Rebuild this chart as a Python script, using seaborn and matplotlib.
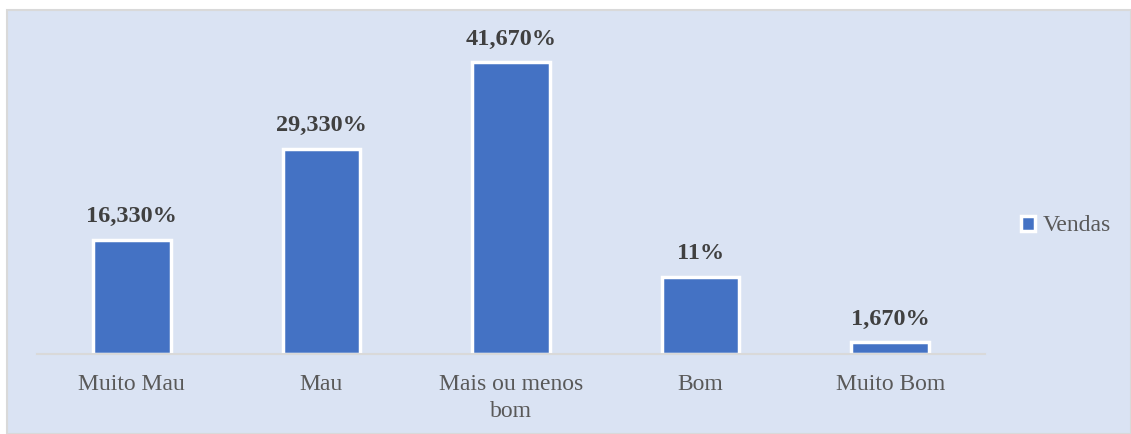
# Bar chart of "Vendas" by rating category
import pandas as pd
import seaborn as sns
import matplotlib.pyplot as plt
from matplotlib.patches import Rectangle

# Data
categories = ['Muito Mau', 'Mau', 'Mais ou menos\nbom', 'Bom', 'Muito Bom']
values = [16.33, 29.33, 41.67, 11.0, 1.67]
value_labels = ['16,330%', '29,330%', '41,670%', '11%', '1,670%']
series_name = 'Vendas'

df = pd.DataFrame({'categoria': categories, 'valor': values})

sns.set_theme(style='white')
plt.rcParams['font.family'] = ['Liberation Serif', 'DejaVu Serif']

W, H = 1131, 434
fig = plt.figure(figsize=(W / 100, H / 100), dpi=100)
fig.patch.set_facecolor('white')

# Chart area background with light border
fig.patches.append(Rectangle((7 / W, 0), (W - 7) / W, (H - 10) / H,
                             transform=fig.transFigure, facecolor='#DAE3F3',
                             edgecolor='#D9D9D9', linewidth=1.5, zorder=-5))

ax = fig.add_axes([37 / W, (H - 354) / H, 948 / W, 334 / H])
ax.set_facecolor('none')

sns.barplot(data=df, x='categoria', y='valor', color='#4472C4', width=0.41,
            saturation=1, edgecolor='white', linewidth=2.5,
            label=series_name, ax=ax)

ax.set_ylim(0, 47.7)
ax.set_xlabel('')
ax.set_ylabel('')
ax.set_yticks([])
for s in ['top', 'left', 'right']:
    ax.spines[s].set_visible(False)
ax.spines['bottom'].set_color('#D9D9D9')
ax.spines['bottom'].set_linewidth(1.5)
ax.tick_params(axis='x', length=0, pad=14.5, labelsize=17, labelcolor='#595959')
for t in ax.get_xticklabels():
    t.set_linespacing(1.35)

ax.bar_label(ax.containers[0], labels=value_labels, padding=9,
             fontsize=17.5, fontweight='bold', color='#404040')

handles, labels = ax.get_legend_handles_labels()
if ax.get_legend():
    ax.get_legend().remove()
fig.legend(handles, labels, loc='center left',
           bbox_to_anchor=(1000 / W, 1 - 226 / H), frameon=False,
           handlelength=0.6, handleheight=0.6, handletextpad=0.3,
           prop={'size': 17}, labelcolor='#595959')

fig.savefig('out.png', dpi=100)
